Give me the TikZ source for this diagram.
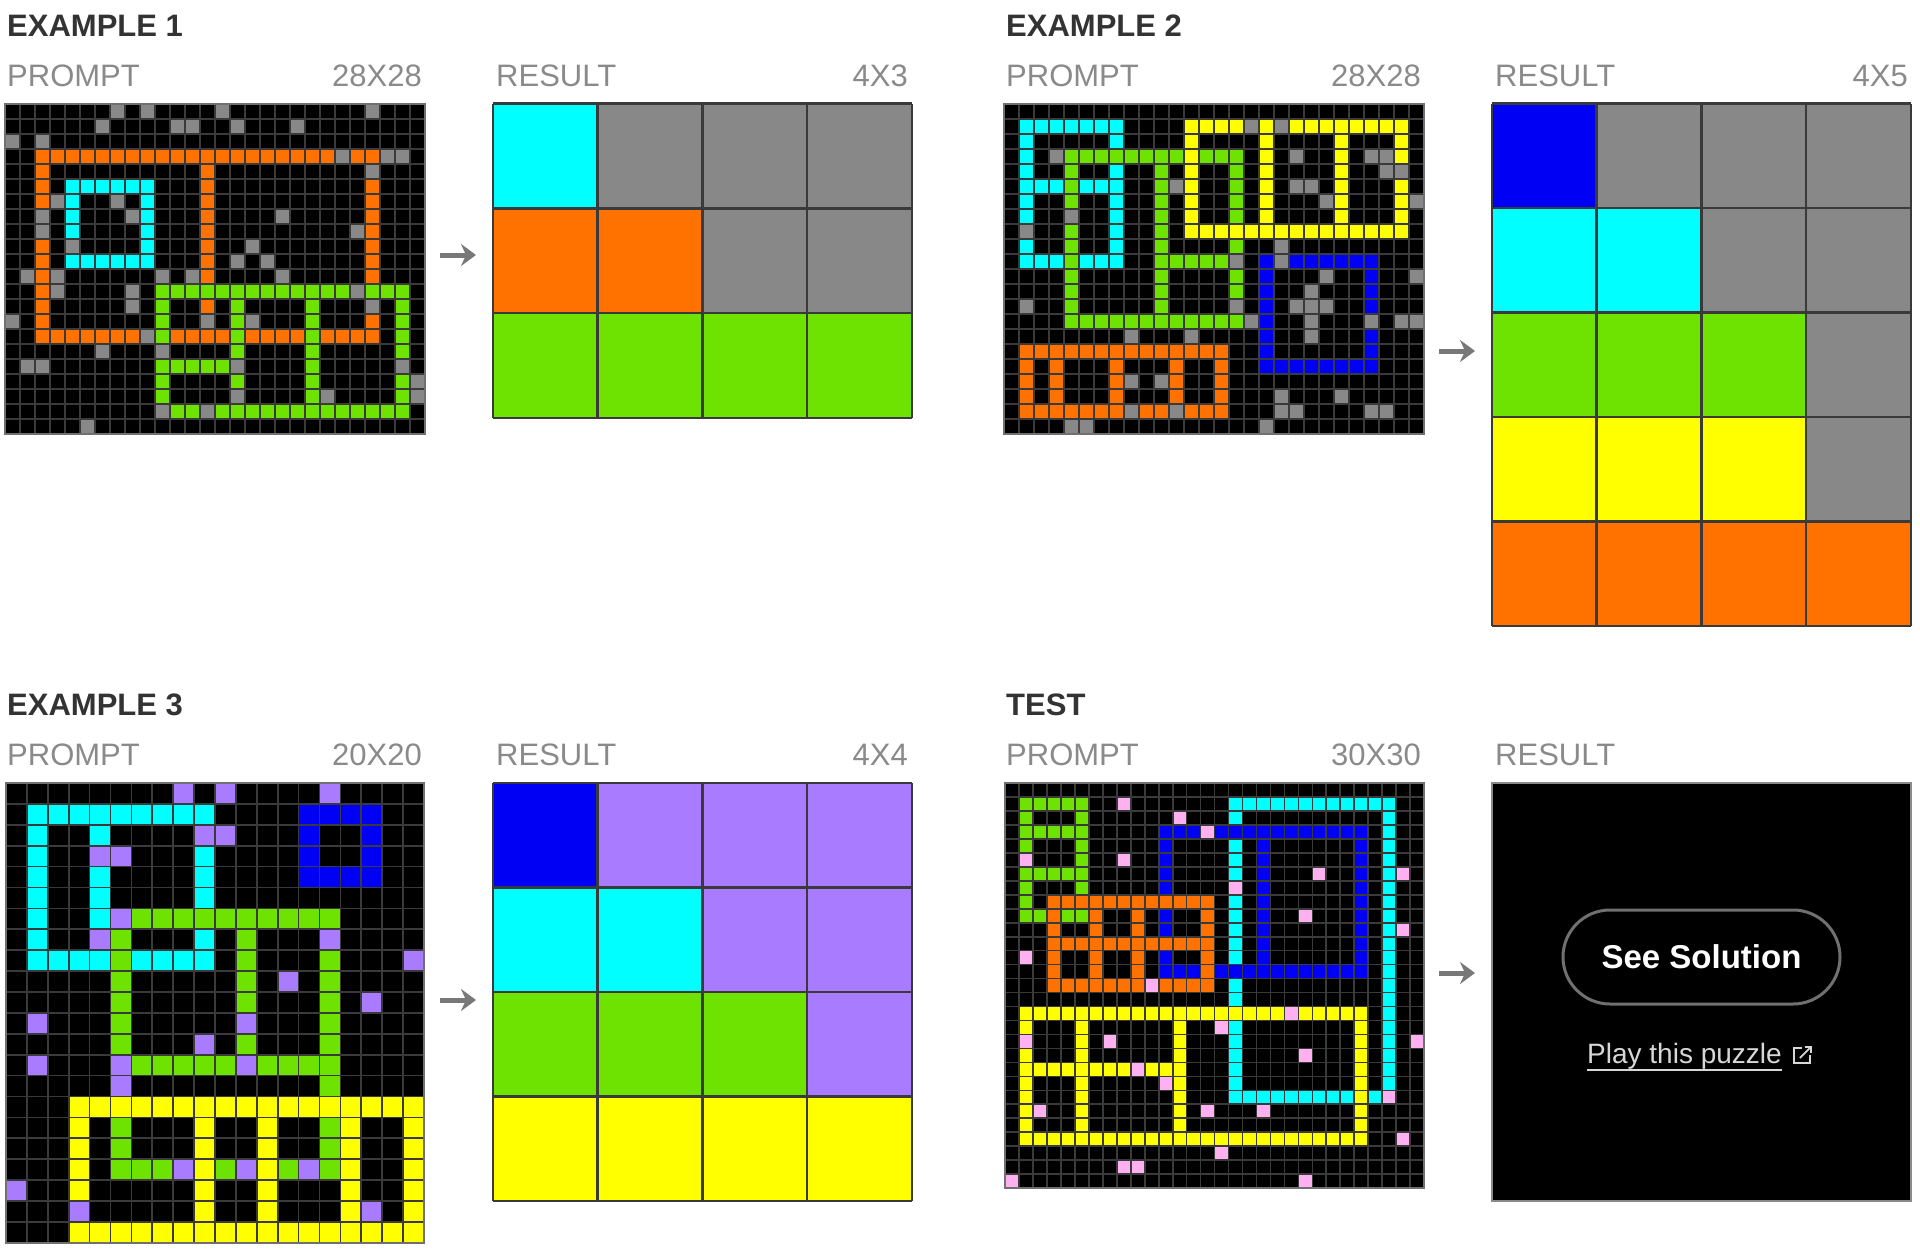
\documentclass[tikz,border=0pt]{standalone}
\usepackage{fontspec}
\setmainfont{Liberation Sans}
\usetikzlibrary{arrows.meta,positioning}
\definecolor{arccyan}{RGB}{0,255,255}
\definecolor{arcorange}{RGB}{255,114,0}
\definecolor{arcgray}{RGB}{136,136,136}
\definecolor{arcgreen}{RGB}{110,226,0}
\definecolor{arcyellow}{RGB}{255,255,0}
\definecolor{arcblue}{RGB}{0,0,245}
\definecolor{arcpurple}{RGB}{169,124,255}
\definecolor{arcpink}{RGB}{255,176,240}
\definecolor{headgray}{RGB}{51,51,51}
\definecolor{labelgray}{RGB}{138,138,138}
\definecolor{linegray}{RGB}{58,58,58}
\definecolor{framegray}{RGB}{112,112,112}
\definecolor{arrowgray}{RGB}{120,120,120}
\definecolor{linkgray}{RGB}{215,215,215}
\newcommand{\putcell}[3]{\fill[#3] (#1,#2) rectangle ++(1,1);}
\newcommand{\hrun}[4]{\fill[#4] (#2,#1) rectangle ({#3+1},{#1+1});}
\newcommand{\vrun}[4]{\fill[#4] (#1,#2) rectangle ({#1+1},{#3+1});}
\newcommand{\strays}[2]{\foreach \cx/\ry in {#2} \putcell{\cx}{\ry}{#1};}
\newcommand{\cellgrid}[3]{%
  \foreach \i in {0,...,#1} \draw[#3] (\i,0) -- (\i,#2);
  \foreach \j in {0,...,#2} \draw[#3] (0,\j) -- (#1,\j);}
\tikzset{
  heading/.style={font=\bfseries\fontsize{31}{36}\selectfont,text=headgray,anchor=base west,inner sep=0pt},
  sublabel/.style={font=\fontsize{31}{36}\selectfont,text=labelgray,inner sep=0pt},
  cellline/.style={draw=linegray,line width=1.7pt},
  resline/.style={draw=linegray,line width=2.4pt},
  gridframe/.style={draw=framegray,line width=2pt},
  flowarrow/.style={draw=arrowgray,line width=5pt,-{Stealth[length=15pt,width=22pt,inset=5pt]}},
  pill/.style={draw=framegray,line width=3pt,rounded corners=47pt,minimum width=277pt,
    minimum height=94pt,text=white,font=\bfseries\fontsize{33}{38}\selectfont},
}
\begin{document}
\begin{tikzpicture}[x=1pt,y=-1pt]
  \fill[white] (0,0) rectangle (1920,1255);
  \useasboundingbox (0,0) rectangle (1920,1255);
  % headings
  \node[heading] (h1) at (7,36.5) {EXAMPLE 1};
  \node[sublabel,anchor=base west] (p1) at (7,86.5) {PROMPT};
  \node[sublabel,anchor=base east] (s1) at (422,86.5) {28X28};
  \node[sublabel,anchor=base west] (r1) at (496,86.5) {RESULT};
  \node[sublabel,anchor=base east] (z1) at (908,86.5) {4X3};
  \node[heading] (h2) at (1006,36.5) {EXAMPLE 2};
  \node[sublabel,anchor=base west] (p2) at (1006,86.5) {PROMPT};
  \node[sublabel,anchor=base east] (s2) at (1421,86.5) {28X28};
  \node[sublabel,anchor=base west] (r2) at (1495,86.5) {RESULT};
  \node[sublabel,anchor=base east] (z2) at (1908,86.5) {4X5};
  \node[heading] (h3) at (7,715.5) {EXAMPLE 3};
  \node[sublabel,anchor=base west] (p3) at (7,765.5) {PROMPT};
  \node[sublabel,anchor=base east] (s3) at (422,765.5) {20X20};
  \node[sublabel,anchor=base west] (r3) at (496,765.5) {RESULT};
  \node[sublabel,anchor=base east] (z3) at (908,765.5) {4X4};
  \node[heading] (h4) at (1006,715.5) {TEST};
  \node[sublabel,anchor=base west] (p4) at (1006,765.5) {PROMPT};
  \node[sublabel,anchor=base east] (s4) at (1421,765.5) {30X30};
  \node[sublabel,anchor=base west] (r4) at (1495,765.5) {RESULT};

  % example 1 prompt
  \begin{scope}[shift={(5,104)},x=15pt,y=-15pt]
    \fill[black] (0,0) rectangle (28,22);
    \hrun{3}{2}{24}{arcorange} \hrun{15}{2}{24}{arcorange}
    \vrun{2}{3}{15}{arcorange} \vrun{13}{3}{15}{arcorange} \vrun{24}{3}{15}{arcorange}
    \hrun{12}{10}{26}{arcgreen} \hrun{20}{10}{26}{arcgreen} \hrun{17}{10}{14}{arcgreen}
    \vrun{10}{12}{20}{arcgreen} \vrun{15}{12}{20}{arcgreen}
    \vrun{20}{12}{20}{arcgreen} \vrun{26}{12}{20}{arcgreen}
    \hrun{5}{4}{9}{arccyan} \hrun{10}{4}{9}{arccyan}
    \vrun{4}{5}{10}{arccyan} \vrun{9}{5}{10}{arccyan}
    \strays{arcgray}{7/0,9/0,14/0,24/0,6/1,11/1,12/1,15/1,19/1,0/2,2/2,22/3,25/3,26/3,
      24/4,3/6,7/6,2/7,8/7,18/7,2/8,23/8,4/9,16/9,15/10,17/10,1/11,3/11,10/11,12/11,
      18/11,3/12,8/12,23/12,8/13,24/13,0/14,13/14,16/14,9/15,6/16,10/16,1/17,2/17,
      15/17,26/17,27/18,15/19,21/19,27/19,10/20,13/20,5/21}
    \cellgrid{28}{22}{cellline}
    \draw[gridframe] (0,0) rectangle (28,22);
  \end{scope}

  % example 1 result
  \begin{scope}[shift={(492.7,103.5)},x=104.8pt,y=-104.8pt]
    \hrun{0}{0}{0}{arccyan} \hrun{0}{1}{3}{arcgray}
    \hrun{1}{0}{1}{arcorange} \hrun{1}{2}{3}{arcgray}
    \hrun{2}{0}{3}{arcgreen}
    \cellgrid{4}{3}{resline}
  \end{scope}

  % example 2 prompt
  \begin{scope}[shift={(1004,104)},x=15pt,y=-15pt]
    \fill[black] (0,0) rectangle (28,22);
    \hrun{1}{1}{7}{arccyan} \hrun{5}{1}{7}{arccyan} \hrun{10}{1}{7}{arccyan}
    \vrun{1}{1}{10}{arccyan} \vrun{7}{1}{10}{arccyan}
    \hrun{3}{4}{15}{arcgreen} \hrun{14}{4}{15}{arcgreen} \hrun{10}{10}{14}{arcgreen}
    \vrun{4}{3}{14}{arcgreen} \vrun{10}{3}{14}{arcgreen} \vrun{15}{3}{14}{arcgreen}
    \hrun{1}{12}{26}{arcyellow} \hrun{8}{12}{26}{arcyellow}
    \vrun{12}{1}{8}{arcyellow} \vrun{17}{1}{8}{arcyellow}
    \vrun{22}{1}{8}{arcyellow} \vrun{26}{1}{8}{arcyellow}
    \hrun{10}{17}{24}{arcblue} \hrun{17}{17}{24}{arcblue}
    \vrun{17}{10}{17}{arcblue} \vrun{24}{10}{17}{arcblue}
    \hrun{16}{1}{14}{arcorange} \hrun{20}{1}{14}{arcorange}
    \foreach \k in {1,3,7,11,14} {\vrun{\k}{16}{20}{arcorange}}
    \strays{arcgray}{16/1,18/1,3/3,19/3,24/3,25/3,25/4,26/4,11/5,19/5,20/5,21/6,27/6,
      4/7,1/8,18/9,15/10,18/10,21/11,27/11,20/12,1/13,15/13,19/13,20/13,21/13,16/14,
      20/14,24/14,26/14,27/14,8/15,12/15,20/15,8/18,10/18,18/19,22/19,8/20,11/20,
      18/20,19/20,24/20,25/20,4/21,5/21,17/21}
    \cellgrid{28}{22}{cellline}
    \draw[gridframe] (0,0) rectangle (28,22);
  \end{scope}

  % example 2 result
  \begin{scope}[shift={(1491.7,103.5)},x=104.8pt,y=-104.5pt]
    \hrun{0}{0}{0}{arcblue} \hrun{0}{1}{3}{arcgray}
    \hrun{1}{0}{1}{arccyan} \hrun{1}{2}{3}{arcgray}
    \hrun{2}{0}{2}{arcgreen} \hrun{2}{3}{3}{arcgray}
    \hrun{3}{0}{2}{arcyellow} \hrun{3}{3}{3}{arcgray}
    \hrun{4}{0}{3}{arcorange}
    \cellgrid{4}{5}{resline}
  \end{scope}

  % example 3 prompt
  \begin{scope}[shift={(6,783)},x=20.9pt,y=-20.9pt]
    \fill[black] (0,0) rectangle (20,22);
    \hrun{1}{1}{9}{arccyan} \hrun{8}{1}{9}{arccyan}
    \vrun{1}{1}{8}{arccyan} \vrun{4}{1}{8}{arccyan} \vrun{9}{1}{8}{arccyan}
    \hrun{1}{14}{17}{arcblue} \hrun{4}{14}{17}{arcblue}
    \vrun{14}{1}{4}{arcblue} \vrun{17}{1}{4}{arcblue}
    \hrun{6}{5}{15}{arcgreen} \hrun{13}{5}{15}{arcgreen} \hrun{18}{5}{15}{arcgreen}
    \vrun{5}{6}{18}{arcgreen} \vrun{11}{6}{13}{arcgreen} \vrun{15}{6}{18}{arcgreen}
    \hrun{15}{3}{19}{arcyellow} \hrun{21}{3}{19}{arcyellow}
    \foreach \k in {3,9,12,16,19} {\vrun{\k}{15}{21}{arcyellow}}
    \strays{arcpurple}{8/0,10/0,15/0,9/2,10/2,4/3,5/3,5/6,4/7,15/7,19/8,13/9,17/10,
      1/11,11/11,9/12,1/13,5/13,11/13,5/14,8/18,11/18,14/18,0/19,3/20,17/20}
    \cellgrid{20}{22}{cellline}
    \draw[gridframe] (0,0) rectangle (20,22);
  \end{scope}

  % example 3 result
  \begin{scope}[shift={(492.7,783)},x=104.8pt,y=-104.5pt]
    \hrun{0}{0}{0}{arcblue} \hrun{0}{1}{3}{arcpurple}
    \hrun{1}{0}{1}{arccyan} \hrun{1}{2}{3}{arcpurple}
    \hrun{2}{0}{2}{arcgreen} \hrun{2}{3}{3}{arcpurple}
    \hrun{3}{0}{3}{arcyellow}
    \cellgrid{4}{4}{resline}
  \end{scope}

  % test prompt
  \begin{scope}[shift={(1005,783)},x=13.97pt,y=-13.97pt]
    \fill[black] (0,0) rectangle (30,29);
    \foreach \k in {1,3,6,9} {\hrun{\k}{1}{5}{arcgreen}}
    \vrun{1}{1}{9}{arcgreen} \vrun{5}{1}{9}{arcgreen}
    \hrun{1}{16}{27}{arccyan} \hrun{22}{16}{27}{arccyan}
    \vrun{16}{1}{22}{arccyan} \vrun{27}{1}{22}{arccyan}
    \hrun{3}{11}{25}{arcblue} \hrun{13}{11}{25}{arcblue}
    \vrun{11}{3}{13}{arcblue} \vrun{18}{3}{13}{arcblue} \vrun{25}{3}{13}{arcblue}
    \foreach \k in {8,11,14} {\hrun{\k}{3}{14}{arcorange}}
    \foreach \k in {3,6,9,14} {\vrun{\k}{8}{14}{arcorange}}
    \hrun{16}{1}{25}{arcyellow} \hrun{25}{1}{25}{arcyellow} \hrun{20}{1}{12}{arcyellow}
    \foreach \k in {1,5,12,25} {\vrun{\k}{16}{25}{arcyellow}}
    \strays{arcpink}{8/1,12/2,14/3,1/5,8/5,22/6,28/6,16/7,21/9,28/10,1/12,10/14,20/16,
      15/17,1/18,7/18,29/18,21/19,9/20,11/21,27/22,2/23,14/23,18/23,28/25,15/26,
      8/27,9/27,0/28,21/28}
    \cellgrid{30}{29}{cellline}
    \draw[gridframe] (0,0) rectangle (30,29);
  \end{scope}

  % test result
  \fill[black] (1492,783) rectangle (1911,1201);
  \draw[draw=labelgray,line width=2pt] (1492,783) rectangle (1911,1201);
  \node[pill] (solution) at (1701.5,957) {See Solution};
  \node[inner sep=0pt,anchor=base west,text=linkgray,font=\fontsize{28}{33}\selectfont]
    (play) at (1587,1063) {Play this puzzle};
  \draw[linkgray,line width=1.5pt] ([yshift=-7pt]play.base west) -- ([yshift=-7pt]play.base east);
  \coordinate[right=12pt of play.base east] (icon);
  \draw[linkgray,line width=1.8pt] ([xshift=8pt,yshift=15pt]icon) -| (icon) -| ([xshift=16pt,yshift=8pt]icon);
  \draw[linkgray,line width=1.8pt] ([xshift=6pt,yshift=5pt]icon) -- ([xshift=17pt,yshift=16pt]icon);
  \draw[linkgray,line width=1.8pt] ([xshift=11pt,yshift=16pt]icon) -- ([xshift=17pt,yshift=16pt]icon) -- ([xshift=17pt,yshift=10pt]icon);

  % arrows
  \coordinate (a1s) at (440,255);  \coordinate (a1e) at (476,255);
  \coordinate (a2s) at (1439,351); \coordinate (a2e) at (1475,351);
  \coordinate (a3s) at (440,1000); \coordinate (a3e) at (476,1000);
  \coordinate (a4s) at (1439,973); \coordinate (a4e) at (1475,973);
  \foreach \k in {1,...,4} {\draw[flowarrow] (a\k s) -- (a\k e);}
\end{tikzpicture}
\end{document}
